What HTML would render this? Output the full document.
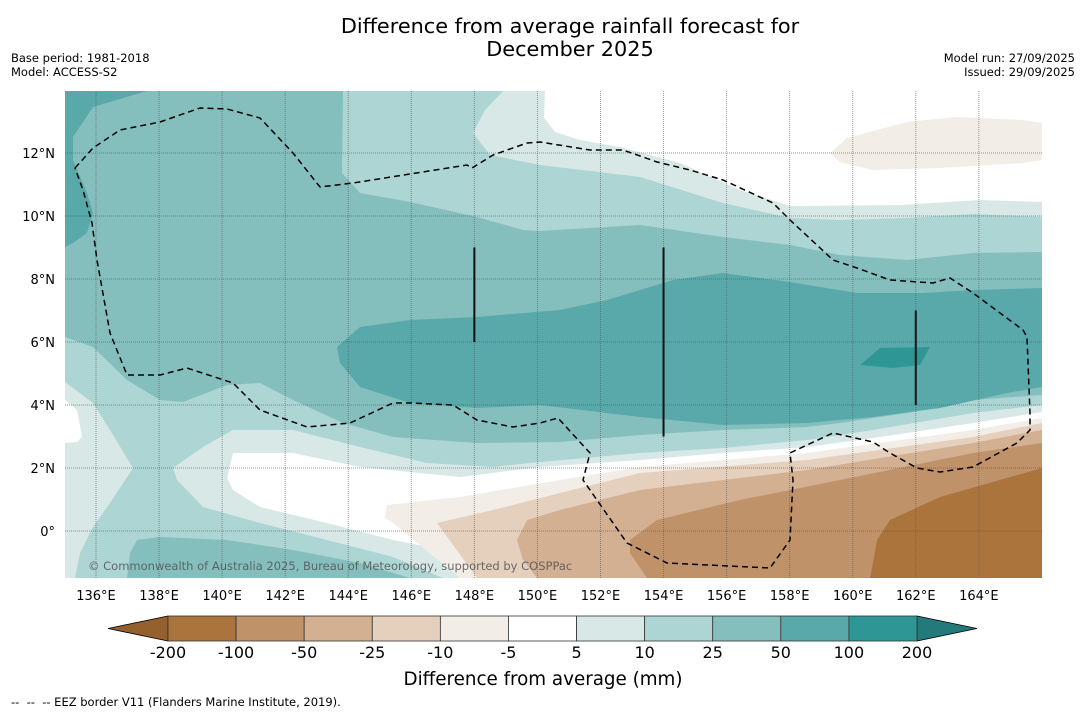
<!DOCTYPE html>
<html><head><meta charset="utf-8">
<style>
html,body{margin:0;padding:0;background:#fff;}
body{width:1085px;height:713px;overflow:hidden;position:relative;font-family:"DejaVu Sans","Liberation Sans",sans-serif;}
.t{position:absolute;white-space:nowrap;color:#000;}
</style></head>
<body>
<div class="t" style="left:270px;width:600px;top:15px;text-align:center;font-size:20.8px;line-height:23px;">Difference from average rainfall forecast for<br>December 2025</div>
<div class="t" style="left:11px;top:51px;font-size:11.5px;line-height:14px;">Base period: 1981-2018<br>Model: ACCESS-S2</div>
<div class="t" style="right:10px;top:51px;font-size:11.5px;line-height:14px;text-align:right;">Model run: 27/09/2025<br>Issued: 29/09/2025</div>
<svg id="map" width="1085" height="713" style="position:absolute;left:0;top:0;"></svg>
<div class="t" style="left:11px;top:695px;font-size:11.5px;">--&nbsp; --&nbsp; -- EEZ border V11 (Flanders Marine Institute, 2019).</div>
<script>
// ---- data ----
const lonTicks=[136,138,140,142,144,146,148,150,152,154,156,158,160,162,164];
const latTicks=[0,2,4,6,8,10,12];
const levelLabels=["-200","-100","-50","-25","-10","-5","5","10","25","50","100","200"];
const levelColors=["#ab743c","#bf9269","#d3b091","#e5d0bd","#f2ede6","#ffffff","#d7e8e7","#acd5d4","#84bfbe","#59a9ab","#2f9696"];
// contour outlines traced from the forecast field (image-traced points, converted to lon/lat below)
const c5_10=[[65,91],[1042,91],[1042,578],[65,578]];
const c10_25=[[65,91],[503,91],[485,110],[473,133],[490,155],[540,165],[640,177],[723,203],[790,218],[840,220],[907,218],[973,214],[1042,217],[1042,405],[973,413],[873,430],[807,440],[723,448],[640,453],[540,462],[493,467],[427,463],[360,447],[293,430],[233,430],[203,447],[173,468],[177,480],[203,507],[260,523],[327,540],[393,557],[443,578],[75,578],[80,553],[93,527],[110,503],[133,468],[110,430],[93,403],[65,382]];
const cWhiteTop=[[545,91],[1042,91],[1042,202],[980,200],[900,205],[790,206],[740,190],[680,163],[620,147],[580,140],[555,132],[544,118]];
const cWhiteBot=[[233,453],[293,453],[360,467],[460,477],[540,467],[640,460],[723,453],[807,447],[873,438],[973,423],[1042,412],[1042,578],[493,578],[460,553],[393,540],[327,523],[260,507],[233,490],[227,478]];
const cWhiteLeft=[[65,400],[77,410],[82,437],[77,442],[65,443]];
const c25_50=[[65,91],[343,91],[342,173],[360,193],[410,202],[477,217],[523,230],[540,231],[640,225],[723,237],[790,245],[840,255],[907,260],[973,253],[1042,252],[1042,395],[973,400],[907,413],[840,423],[807,427],[723,430],[640,435],[560,442],[477,443],[393,437],[343,423],[293,400],[260,383],[227,385],[183,402],[160,400],[127,380],[93,347],[65,337]];
const c25_50b=[[130,553],[137,540],[160,537],[227,540],[293,550],[360,563],[410,578],[127,578]];
const c50_100=[[337,347],[360,327],[410,320],[477,317],[560,310],[607,300],[673,280],[723,273],[790,282],[857,293],[923,293],[973,290],[1042,288],[1042,387],[1007,393],[940,408],[873,417],[807,423],[723,425],[640,417],[540,405],[477,408],[410,403],[360,387],[340,363]];
const c50_100b=[[65,91],[147,91],[93,107],[73,137],[73,160],[87,193],[93,213],[87,233],[73,243],[65,247]];
const c100_200=[[860,365],[880,348],[930,347],[920,365],[893,368]];
const cM5=[[387,505],[460,497],[560,480],[640,467],[807,453],[973,430],[1042,418],[1042,578],[460,578],[393,523],[385,518]];
const cM10=[[437,523],[493,510],[560,493],[640,473],[807,460],[973,437],[1042,423],[1042,578],[477,578]];
const cM25=[[517,540],[527,520],[560,510],[640,490],[807,470],[973,443],[1042,430],[1042,578],[537,578],[523,560]];
const cM50=[[630,540],[657,520],[740,500],[840,480],[973,453],[1042,443],[1042,578],[647,578],[630,553]];
const cM100=[[877,540],[890,520],[940,497],[1042,468],[1042,578],[870,578],[873,563]];
const cM5top=[[830,153],[847,138],[907,122],[957,117],[1023,120],[1042,123],[1042,160],[1023,163],[940,168],[873,170],[840,162]];
const eez=[[75,168],[93,148],[120,130],[160,122],[200,108],[227,109],[260,118],[293,153],[320,187],[353,183],[467,165],[472,168],[493,155],[527,143],[540,142],[590,150],[623,150],[657,162],[690,170],[723,180],[773,203],[790,220],[833,260],[857,268],[890,280],[933,283],[950,278],[973,293],[1023,330],[1027,337],[1030,413],[1030,430],[1017,443],[973,467],[940,472],[917,468],[890,453],[873,442],[833,433],[807,445],[790,453],[793,480],[790,540],[770,568],[667,563],[627,543],[583,480],[590,453],[558,418],[540,423],[513,427],[477,420],[453,405],[410,403],[393,403],[350,423],[307,427],[260,410],[233,383],[187,368],[160,375],[127,375],[110,333],[97,260],[92,223],[83,190],[75,168]];
const meridianBars=[[148,9,6],[154,9,3],[162,7,4]];
// ---- axes ----
const X0=96,Y0=531,S=31.53,SY=31.5;
const xs=lon=>X0+(lon-136)*S;
const ys=lat=>Y0-lat*SY;
const toGeo=pts=>pts.map(p=>[136+(p[0]-X0)/S,(Y0-p[1])/SY]);
const svg=document.getElementById('map');
const NS='http://www.w3.org/2000/svg';
function mk(tag,attrs,parent){const e=document.createElementNS(NS,tag);for(const k in attrs)e.setAttribute(k,attrs[k]);(parent||svg).appendChild(e);return e;}
const defs=mk('defs',{});
const cp=mk('clipPath',{id:'clip'},defs);
mk('rect',{x:65,y:91,width:977,height:487},cp);
const g=mk('g',{'clip-path':'url(#clip)'});
function poly(pts,fill,name){
  const d=toGeo(pts).map(q=>xs(q[0]).toFixed(1)+','+ys(q[1]).toFixed(1)).join(' ');
  const p=mk('polygon',{points:d,fill:fill},g);
  
  
}
poly(c5_10,levelColors[6],'contour-5-10');
poly(c10_25,levelColors[7],'contour-10-25');
poly(cWhiteTop,levelColors[5],'contour-near-average-north');
poly(cWhiteBot,levelColors[5],'contour-near-average-south');
poly(cWhiteLeft,levelColors[5],'contour-near-average-west');
poly(c25_50,levelColors[8],'contour-25-50');
poly(c25_50b,levelColors[8],'contour-25-50-south');
poly(c50_100,levelColors[9],'contour-50-100');
poly(c50_100b,levelColors[9],'contour-50-100-northwest');
poly(c100_200,levelColors[10],'contour-100-200');
poly(cM5,levelColors[4],'contour-minus5-10');
poly(cM10,levelColors[3],'contour-minus10-25');
poly(cM25,levelColors[2],'contour-minus25-50');
poly(cM50,levelColors[1],'contour-minus50-100');
poly(cM100,levelColors[0],'contour-minus100-200');
poly(cM5top,levelColors[4],'contour-minus5-10-north');
// grid
lonTicks.forEach(l=>{
  const e=mk('line',{x1:xs(l),x2:xs(l),y1:91,y2:578,stroke:'#555','stroke-width':1,'stroke-dasharray':'1,1',opacity:0.6},g);
  
  
  const t=mk('text',{x:xs(l),y:600,'text-anchor':'middle','font-size':13,fill:'#000'});
  t.textContent=l+'°E';
  
  
});
latTicks.forEach(l=>{
  const e=mk('line',{x1:65,x2:1042,y1:ys(l),y2:ys(l),stroke:'#555','stroke-width':1,'stroke-dasharray':'1,1',opacity:0.6},g);
  
  
  const t=mk('text',{x:55,y:ys(l)+5,'text-anchor':'end','font-size':13,fill:'#000'});
  t.textContent=l===0?'0°':l+'°N';
  
  
});
// EEZ border
const ez=toGeo(eez).map(q=>xs(q[0]).toFixed(1)+','+ys(q[1]).toFixed(1)).join(' ');
const eline=mk('polyline',{points:ez,fill:'none',stroke:'#000','stroke-width':1.5,'stroke-dasharray':'6,4'},g);


meridianBars.forEach(b=>{
  const e=mk('line',{x1:xs(b[0]),x2:xs(b[0]),y1:ys(b[1]),y2:ys(b[2]),stroke:'#111','stroke-width':2},g);
  
  
});
const cr=mk('text',{x:88,y:570,'font-size':11.5,fill:'#555',opacity:0.85},g);
cr.textContent='© Commonwealth of Australia 2025, Bureau of Meteorology, supported by COSPPac';


// colorbar
const cbL=168,cbR=917,cbT=616,cbB=641,n=levelColors.length,w=(cbR-cbL)/n;
const lt=mk('polygon',{points:`108,${(cbT+cbB)/2} ${cbL},${cbT} ${cbL},${cbB}`,fill:'#94602d',stroke:'#000','stroke-width':0.8});


const rt=mk('polygon',{points:`977,${(cbT+cbB)/2} ${cbR},${cbT} ${cbR},${cbB}`,fill:'#24797b',stroke:'#000','stroke-width':0.8});


levelColors.forEach((c,i)=>{
  const r=mk('rect',{x:cbL+i*w,y:cbT,width:w,height:cbB-cbT,fill:c,stroke:'#333','stroke-width':0.8});
  
  
});
levelLabels.forEach((s,i)=>{
  const t=mk('text',{x:cbL+i*w,y:658,'text-anchor':'middle','font-size':16,fill:'#000'});
  t.textContent=s;
  
  
});
const ct=mk('text',{x:543,y:685,'text-anchor':'middle','font-size':18.3,fill:'#000'});
ct.textContent='Difference from average (mm)';


</script>
</body></html>
